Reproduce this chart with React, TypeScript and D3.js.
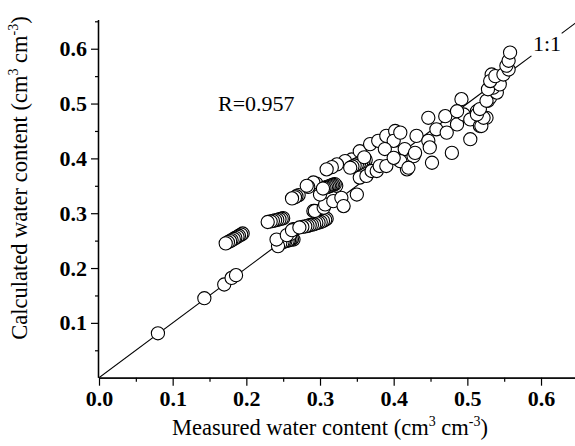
import React, { useEffect, useRef } from 'react';
import * as d3 from 'd3';

const measured = [
  0.080, 0.143, 0.170, 0.180, 0.186,
  0.195, 0.193, 0.190, 0.188, 0.185, 0.183, 0.180, 0.178, 0.175, 0.172,
  0.250, 0.248, 0.245, 0.242, 0.239, 0.236, 0.233, 0.229,
  0.264, 0.262, 0.260, 0.258, 0.256, 0.253, 0.251, 0.249, 0.246, 0.243, 0.241, 0.260, 0.255,
  0.266, 0.264, 0.262,
  0.309, 0.307, 0.304, 0.301, 0.298, 0.295, 0.292, 0.289, 0.286, 0.283, 0.280, 0.276, 0.272,
  0.291, 0.293, 0.305, 0.307, 0.318, 0.329, 0.332, 0.350,
  0.271, 0.268, 0.266, 0.262,
  0.300, 0.295, 0.291, 0.284, 0.282,
  0.322, 0.320, 0.318, 0.316, 0.314, 0.312, 0.310, 0.308, 0.306, 0.304,
  0.343, 0.334, 0.323, 0.316, 0.309,
  0.362, 0.359, 0.356, 0.353, 0.350, 0.347, 0.344, 0.341,
  0.354, 0.363, 0.370, 0.377, 0.381, 0.390, 0.354, 0.360,
  0.368, 0.379, 0.390, 0.402, 0.402, 0.406, 0.418, 0.400, 0.409, 0.388, 0.415, 0.409,
  0.427, 0.431, 0.420, 0.452, 0.447, 0.449, 0.447, 0.458, 0.470, 0.472, 0.479, 0.486,
  0.492, 0.495, 0.504, 0.504, 0.513, 0.517, 0.526, 0.528, 0.535, 0.533, 0.486, 0.429, 0.400,
  0.519, 0.522, 0.513, 0.517, 0.531, 0.526, 0.540, 0.535, 0.528, 0.544, 0.531, 0.538,
  0.549, 0.556, 0.553, 0.556, 0.558,
];

const calculated = [
  0.081, 0.145, 0.170, 0.182, 0.187,
  0.263, 0.261, 0.259, 0.257, 0.255, 0.253, 0.251, 0.249, 0.247, 0.245,
  0.291, 0.290, 0.289, 0.288, 0.287, 0.286, 0.285, 0.284,
  0.252, 0.253, 0.252, 0.251, 0.250, 0.249, 0.248, 0.247, 0.245, 0.240, 0.252, 0.262, 0.260,
  0.271, 0.271, 0.269,
  0.290, 0.288, 0.286, 0.284, 0.283, 0.282, 0.280, 0.279, 0.278, 0.277, 0.276, 0.275, 0.274,
  0.304, 0.304, 0.310, 0.316, 0.322, 0.328, 0.313, 0.334,
  0.333, 0.331, 0.329, 0.327,
  0.334, 0.354, 0.356, 0.348, 0.350,
  0.350, 0.353, 0.352, 0.351, 0.350, 0.349, 0.348, 0.347, 0.346, 0.345,
  0.398, 0.395, 0.389, 0.384, 0.380,
  0.397, 0.395, 0.393, 0.391, 0.389, 0.387, 0.385, 0.383,
  0.365, 0.368, 0.377, 0.377, 0.386, 0.386, 0.413, 0.402,
  0.426, 0.432, 0.441, 0.450, 0.410, 0.398, 0.380, 0.432, 0.447, 0.417, 0.417, 0.395,
  0.404, 0.441, 0.383, 0.392, 0.432, 0.420, 0.474, 0.453, 0.477, 0.447, 0.410, 0.462,
  0.508, 0.480, 0.435, 0.471, 0.486, 0.459, 0.474, 0.505, 0.520, 0.553, 0.486, 0.410, 0.401,
  0.459, 0.474, 0.480, 0.490, 0.511, 0.505, 0.520, 0.529, 0.526, 0.535, 0.541, 0.550,
  0.553, 0.562, 0.569, 0.578, 0.593,
];

const majorTicks = [0.0, 0.1, 0.2, 0.3, 0.4, 0.5, 0.6];
const minorTicks = [0.05, 0.15, 0.25, 0.35, 0.45, 0.55, 0.65];
const oneToOne = [[0, 0.587], [0.628, 0.66]];

const serif = '"Liberation Serif", "Times New Roman", serif';

const App = () => {
  const xAxisRef = useRef<SVGGElement>(null);
  const yAxisRef = useRef<SVGGElement>(null);

  const width = 575;
  const height = 446;
  const margin = { top: 20, right: 0, bottom: 69, left: 99 };
  const ox = margin.left;
  const oy = height - margin.bottom + 0.7;

  const x = d3.scaleLinear().domain([0, 0.65]).range([ox, ox + 0.65 * 736.7]);
  const y = d3.scaleLinear().domain([0, 0.65]).range([oy, oy - 0.65 * 548.3]);

  useEffect(() => {
    const gx = d3.select(xAxisRef.current);
    gx.selectAll('*').remove();
    gx.append('g').call(d3.axisBottom(x).tickValues(minorTicks).tickSize(4).tickFormat(() => ''));
    gx.append('g').call(
      d3.axisBottom(x).tickValues(majorTicks).tickSize(8).tickPadding(5).tickFormat(d3.format('.1f'))
    );

    const gy = d3.select(yAxisRef.current);
    gy.selectAll('*').remove();
    gy.append('g').call(d3.axisLeft(y).tickValues(minorTicks).tickSize(4).tickFormat(() => ''));
    gy.append('g').call(
      d3.axisLeft(y).tickValues(majorTicks.slice(1)).tickSize(8).tickPadding(4).tickFormat(d3.format('.1f'))
    );

    [gx, gy].forEach((g) => {
      g.selectAll('path.domain').attr('stroke', '#000').attr('stroke-width', 1.3);
      g.selectAll('line').attr('stroke', '#000').attr('stroke-width', 1.2);
      g.selectAll('text')
        .attr('fill', '#000')
        .attr('font-family', serif)
        .attr('font-size', 22)
        .attr('font-weight', 'bold');
    });
    gx.selectAll('path.domain').attr('d', `M${ox},0.5H${width}`);
    gy.selectAll('path.domain').attr('d', `M-0.5,${oy}V${margin.top}`);
  }, []);

  const line = d3.line<number>().x((d) => x(d)).y((d) => y(d));
  const points = measured.map((m, i) => [m, calculated[i]]);

  return (
    <svg width={width} height={height} style={{ position: 'absolute', left: 0, top: 0, background: '#fff' }}>
      <defs>
        <clipPath id="plot">
          <rect x={ox} y={0} width={width - ox} height={oy} />
        </clipPath>
      </defs>
      <g clipPath="url(#plot)">
        {oneToOne.map((seg, i) => (
          <path key={i} d={line(seg) || ''} fill="none" stroke="#000" strokeWidth={1.1} />
        ))}
        {points.map((p, i) => (
          <circle key={i} cx={x(p[0])} cy={y(p[1])} r={6.6} fill="#fff" stroke="#000" strokeWidth={1.1} />
        ))}
      </g>
      <g ref={xAxisRef} transform={`translate(0,${oy})`} />
      <g ref={yAxisRef} transform={`translate(${ox},0)`} />

      <text x={218} y={111} fontFamily={serif} fontSize={22} fill="#000">R=0.957</text>
      <text x={533} y={51} fontFamily={serif} fontSize={22} fill="#000">1:1</text>

      <text x={330} y={435} textAnchor="middle" fontFamily={serif} fontSize={22.5} fill="#000">
        Measured water content (cm<tspan fontSize={14} dy={-9}>3</tspan>
        <tspan dy={9}> cm</tspan>
        <tspan fontSize={14} dy={-9}>-3</tspan>
        <tspan dy={9}>)</tspan>
      </text>
      <text
        transform="translate(27,178) rotate(-90)"
        textAnchor="middle"
        fontFamily={serif}
        fontSize={22.5}
        fill="#000"
      >
        Calculated water content (cm<tspan fontSize={14} dy={-9}>3</tspan>
        <tspan dy={9}> cm</tspan>
        <tspan fontSize={14} dy={-9}>-3</tspan>
        <tspan dy={9}>)</tspan>
      </text>
    </svg>
  );
};

export default App;
